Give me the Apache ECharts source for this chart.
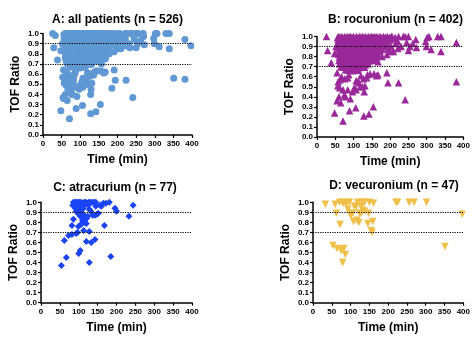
<!DOCTYPE html>
<html>
<head>
<meta charset="utf-8">
<script src="https://cdn.jsdelivr.net/npm/echarts@6/dist/echarts.min.js"></script>
<style>html,body{margin:0;padding:0;background:#fff}#c{width:473px;height:338px}</style>
</head>
<body>
<div id="c"></div>
<script>
// ---- DATA ----
const xTicks = [0, 50, 100, 150, 200, 250, 300, 350, 400];
const yTicks = [0.0, 0.1, 0.2, 0.3, 0.4, 0.5, 0.6, 0.7, 0.8, 0.9, 1.0];
const thresholds = [0.9, 0.7];
const panelTitles = ['A: all patients (n = 526)', 'B: rocuronium (n = 402)', 'C: atracurium (n = 77)', 'D: vecuronium (n = 47)'];
const xName = 'Time (min)';
const yName = 'TOF Ratio';

// rocuronium: [time (min), TOF ratio]
const rocuronium = [
  [26,1.0],[29,0.86],[39,0.74],[48,0.83],[52,0.9],
  [48,0.24],[71,0.16],[89,0.26],[106,0.29],[128,0.21],[142,0.23],[154,0.30],
  [55,0.36],[60,0.40],[65,0.34],[78,0.40],[84,0.47],[91,0.38],[97,0.45],[62,0.49],[71,0.47],[75,0.42],
  [58,0.55],[63,0.57],[67,0.60],[57,0.51],[102,0.49],[107,0.47],[115,0.54],[118,0.50],[124,0.50],[129,0.45],[131,0.51],
  [55,0.64],[67,0.70],[76,0.58],[84,0.59],[87,0.62],[91,0.69],[96,0.67],[107,0.56],[112,0.55],[120,0.61],[127,0.58],
  [136,0.59],[138,0.62],[145,0.63],[156,0.63],[163,0.61],[167,0.62],[191,0.64],[194,0.54],[223,0.54],[241,0.37],[381,0.55],
  [167,0.75],[178,0.80],[191,0.82],[194,0.88],[200,0.85],[203,0.90],[209,0.85],[221,0.88],[203,1.0],[212,0.98],[223,1.0],
  [236,1.0],[221,0.95],[241,1.0],[250,1.0],[245,0.94],[254,0.90],[250,0.86],[270,0.97],[272,0.89],[297,0.95],[301,0.99],
  [306,1.0],[299,0.90],[312,0.87],[330,1.0],[339,1.0],[339,0.85],[381,0.94],[262,0.93],[230,0.90],[215,0.93],
  [56,0.99],[60,1.0],[64,0.99],[68,1.0],[72,0.985],[76,1.0],[80,0.99],[84,1.0],[88,0.995],[92,1.0],[96,0.99],[100,1.0],
  [104,0.985],[108,1.0],[112,0.99],[116,1.0],[120,0.995],[124,1.0],[128,0.99],[132,1.0],[136,0.985],[140,1.0],[144,0.99],
  [148,1.0],[152,0.995],[156,1.0],[160,0.99],[164,1.0],[168,0.985],[172,1.0],[177,0.99],[182,1.0],[187,0.99],[192,1.0],
  [198,0.99],[205,1.0],[214,0.99],
  [58,0.97],[64,0.96],[70,0.975],[76,0.965],[82,0.97],[88,0.96],[94,0.975],[100,0.965],[106,0.97],[112,0.96],[118,0.975],
  [124,0.965],[130,0.97],[136,0.96],[142,0.975],[148,0.965],[154,0.97],[160,0.96],[166,0.975],[173,0.965],[180,0.97],
  [190,0.96],[200,0.965],
  [57,0.94],[63,0.935],[69,0.945],[75,0.93],[81,0.94],[87,0.935],[93,0.945],[99,0.93],[105,0.94],[111,0.935],[117,0.945],
  [123,0.93],[129,0.94],[135,0.935],[141,0.945],[147,0.93],[153,0.94],[159,0.935],[166,0.945],[174,0.93],[184,0.94],[193,0.935],
  [59,0.91],[65,0.905],[71,0.915],[77,0.9],[83,0.91],[89,0.905],[95,0.915],[101,0.9],[107,0.91],[113,0.905],[119,0.915],
  [125,0.9],[131,0.91],[137,0.905],[143,0.915],[149,0.9],[155,0.91],[162,0.905],[170,0.915],[180,0.9],[188,0.91],
  [58,0.88],[64,0.875],[70,0.885],[76,0.87],[82,0.88],[88,0.875],[94,0.885],[100,0.87],[106,0.88],[112,0.875],[118,0.885],
  [124,0.87],[130,0.88],[136,0.875],[142,0.885],[148,0.87],[154,0.88],[161,0.875],[169,0.885],[178,0.87],
  [60,0.85],[66,0.845],[72,0.855],[78,0.84],[84,0.85],[90,0.845],[96,0.855],[102,0.84],[108,0.85],[114,0.845],[120,0.855],
  [126,0.84],[132,0.85],[138,0.845],[144,0.855],[150,0.84],[157,0.85],[164,0.845],[172,0.85],
  [59,0.82],[65,0.815],[71,0.825],[77,0.81],[83,0.82],[89,0.815],[95,0.825],[101,0.81],[107,0.82],[113,0.815],[119,0.825],
  [125,0.81],[131,0.82],[137,0.815],[144,0.825],[151,0.81],[158,0.82],[166,0.815],
  [61,0.79],[67,0.785],[73,0.795],[79,0.78],[85,0.79],[91,0.785],[97,0.795],[103,0.78],[109,0.79],[115,0.785],[121,0.795],
  [127,0.78],[134,0.79],[141,0.785],[148,0.795],[155,0.78],[162,0.79],
  [60,0.76],[66,0.755],[72,0.765],[78,0.75],[84,0.76],[90,0.755],[96,0.765],[102,0.75],[108,0.76],[114,0.755],[120,0.765],
  [127,0.75],[134,0.76],[142,0.755],[150,0.765],[158,0.76],
  [62,0.73],[68,0.725],[74,0.735],[80,0.72],[86,0.73],[92,0.725],[98,0.735],[104,0.72],[110,0.73],[117,0.725],[124,0.735],
  [132,0.72],[140,0.73],
  [66,0.70],[73,0.695],[80,0.705],[87,0.69],[94,0.70],[101,0.695],[108,0.705],[115,0.69],[123,0.70],[130,0.695],
  [78,0.67],[85,0.665],[92,0.675],[99,0.66],[106,0.67],[113,0.665]
];

// atracurium: [time (min), TOF ratio]
const atracurium = [
  [54,0.37],[62,0.62],[67,0.45],[73,0.67],[82,0.68],[82,0.77],[86,0.83],[84,0.97],[93,0.69],[97,0.70],[99,0.76],[100,0.49],
  [104,0.52],[120,0.61],[128,0.40],[128,0.71],[133,0.60],[143,0.63],[168,0.77],[185,0.46],[196,0.94],[200,0.91],[233,0.86],[244,0.97],
  [93,0.91],[97,0.93],[104,0.91],[104,0.86],[108,0.79],[113,0.81],[113,0.72],[117,0.86],[121,0.84],[132,0.91],[137,0.87],
  [143,0.87],[152,0.89],[156,0.97],[165,0.99],[172,0.99],[181,1.0],
  [86,1.0],[90,1.0],[94,1.0],[98,1.0],[102,1.0],[106,1.0],[110,0.99],[114,1.0],[118,1.0],[122,0.99],[126,1.0],[130,1.0],
  [135,1.0],[140,1.0],[145,1.0],[100,0.97],[108,0.97],[116,0.98],[125,0.97],[145,0.96],[160,0.96],[91,0.94],[103,0.95],
  [112,0.94],[96,0.9],[108,0.92],[110,0.88],[118,0.85],[110,0.82],[115,0.8],[120,0.79],[106,0.78],[148,0.88],[128,0.93],
  [100,0.88],[124,0.86]
];

// vecuronium: [time (min), TOF ratio]
const vecuronium = [
  [33,0.98],[59,0.98],[62,0.89],[71,1.0],[72,0.78],[79,1.0],[81,0.99],[91,1.0],[97,1.0],[88,0.99],[93,0.93],[97,0.89],
  [101,0.87],[106,0.89],[110,0.96],[115,0.96],[108,0.81],[117,0.82],[122,0.80],[119,1.0],[128,0.96],[132,1.0],[137,1.0],
  [128,0.89],[132,0.92],[137,0.91],[146,0.79],[148,0.89],[150,1.0],[155,0.72],[157,0.70],[159,0.81],[161,0.99],
  [53,0.57],[64,0.54],[75,0.52],[82,0.54],[86,0.48],[79,0.40],
  [221,1.0],[225,1.0],[256,1.0],[269,1.0],[302,1.0],[351,0.56],[397,0.88],[124,0.89]
];

// all patients = rocuronium + atracurium + vecuronium
const allPatients = [].concat(rocuronium, atracurium, vecuronium);

// ---- CHART ----
const FONT = '"Liberation Sans", Arial, Helvetica, sans-serif';
const panels = [
  {data: allPatients, symbol: 'circle',   size: 7, rot: 0,   color: '#5f98d3', grid: {left: 43,  top: 33.5, width: 149, height: 101.5}, tx: 112.5, ty: 9},
  {data: rocuronium,  symbol: 'triangle', size: 7.5, rot: 0, color: '#9a289a', grid: {left: 317, top: 36.5, width: 149, height: 100.5}, tx: 390.5, ty: 9},
  {data: atracurium,  symbol: 'diamond',  size: 7, rot: 0,   color: '#1a44f6', grid: {left: 41,  top: 202.3, width: 151, height: 100.4}, tx: 110, ty: 177},
  {data: vecuronium,  symbol: 'triangle', size: 7.5, rot: 180, color: '#efbf48', grid: {left: 313, top: 202.3, width: 151, height: 100.4}, tx: 389, ty: 175}
];

const axisLine = {show: true, onZero: false, lineStyle: {color: '#000', width: 1.5}};
const axisTick = {show: true, inside: false, length: 3, lineStyle: {color: '#000', width: 1.2}};
const labelStyle = {color: '#000', fontSize: 8, fontWeight: 'bold', fontFamily: FONT};
const nameStyle = {color: '#000', fontSize: 12, fontWeight: 'bold', fontFamily: FONT};

const option = {
  animation: false,
  backgroundColor: '#fff',
  title: panels.map((p, i) => ({
    text: panelTitles[i], left: p.tx, top: p.ty, textAlign: 'center',
    textStyle: {color: '#000', fontSize: 12, fontWeight: 'bold', fontFamily: FONT}
  })),
  grid: panels.map(p => Object.assign({containLabel: false}, p.grid)),
  xAxis: panels.map((p, i) => ({
    gridIndex: i, type: 'value', min: xTicks[0], max: xTicks[xTicks.length - 1], interval: xTicks[1] - xTicks[0],
    name: xName, nameLocation: 'middle', nameGap: 19, nameTextStyle: nameStyle,
    axisLine: axisLine, axisTick: axisTick, splitLine: {show: false},
    axisLabel: Object.assign({margin: 5, showMinLabel: true, showMaxLabel: true}, labelStyle)
  })),
  yAxis: panels.map((p, i) => ({
    gridIndex: i, type: 'value', min: yTicks[0], max: yTicks[yTicks.length - 1], interval: 0.1,
    name: yName, nameLocation: 'middle', nameGap: 21, nameTextStyle: nameStyle,
    axisLine: axisLine, axisTick: axisTick, splitLine: {show: false},
    axisLabel: Object.assign({margin: 4, formatter: v => v.toFixed(1), showMinLabel: true, showMaxLabel: true}, labelStyle)
  })),
  series: panels.map((p, i) => ({
    type: 'scatter', xAxisIndex: i, yAxisIndex: i, data: p.data,
    symbol: p.symbol, symbolSize: p.size, symbolRotate: p.rot,
    itemStyle: {color: p.color, opacity: 1},
    clip: false, silent: true,
    markLine: {
      silent: true, symbol: ['none', 'none'], label: {show: false},
      lineStyle: {color: '#000', type: 'dotted', width: 1.2},
      data: thresholds.map(t => ({yAxis: t}))
    }
  }))
};

const chart = echarts.init(document.getElementById('c'), null, {renderer: 'canvas'});
chart.setOption(option);
</script>
</body>
</html>
